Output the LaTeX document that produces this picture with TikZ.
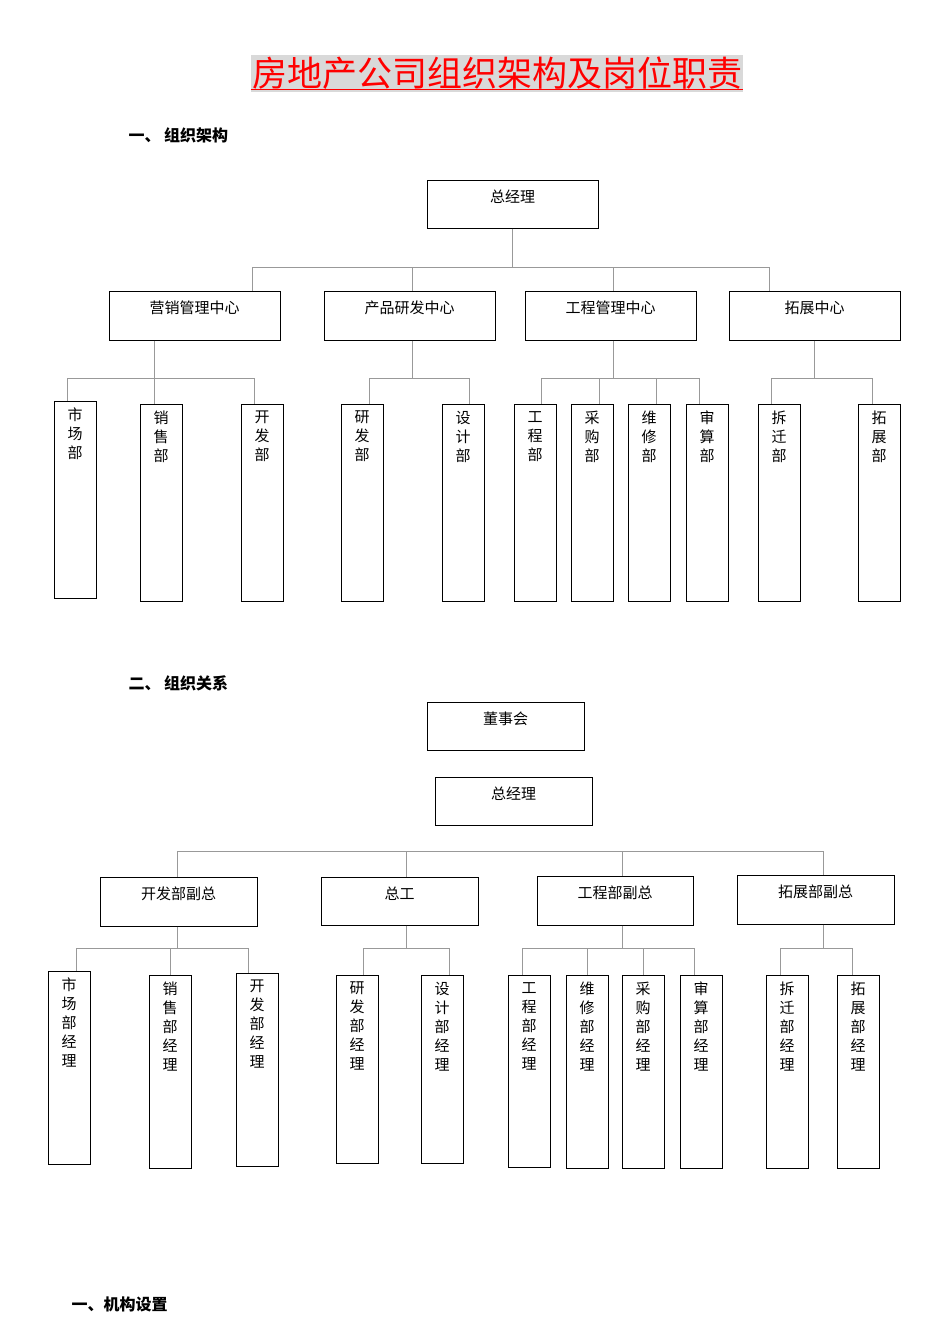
\documentclass[tikz,border=0pt]{standalone}
\usepackage{fontspec}
\setmainfont{Noto Sans CJK SC}
\newfontfamily\cjk{Noto Sans CJK SC}
\begin{document}
\begin{tikzpicture}[x=1pt,y=-1pt,
  bx/.style={draw=black,line width=1pt,inner sep=0pt},
  txt/.style={font=\fontsize{15}{19}\selectfont\cjk,inner sep=0pt,align=center},
  conn/.style={draw=gray!80,line width=0.6pt}]
\useasboundingbox (0,0) rectangle (950,1344);
\newcommand\hb[6]{\node[bx,minimum width=#4-#2,minimum height=#5-#3] (#1) at ({(#2+#4)/2},{(#3+#5)/2}) {};
  \node[txt,anchor=center] (#1t) at ({(#2+#4)/2},{#3+17}) {#6};}
\newcommand\vb[6]{\node[bx,minimum width=#4-#2,minimum height=#5-#3] (#1) at ({(#2+#4)/2},{(#3+#5)/2}) {};
  \node[txt,anchor=north] (#1t) at ({(#2+#4)/2},{#3+7}) {#6};}
% title
\node[fill=gray!30,text=red,font=\fontsize{35}{38}\selectfont,inner sep=1pt,minimum width=491,minimum height=37] (title) at (497,73) {房地产公司组织架构及岗位职责};
\draw[red,line width=1pt] (title.south west) ++(0,-2) -- ([yshift=2pt]title.south east);
\node[anchor=west,font=\fontsize{16}{18}\selectfont\bfseries] (h1) at (125,135) {一、\ 组织架构};
\node[anchor=west,font=\fontsize{16}{18}\selectfont\bfseries] (h2) at (125,683) {二、\ 组织关系};
\node[anchor=west,font=\fontsize{16}{18}\selectfont\bfseries] (h3) at (68,1304) {一、机构设置};
% section 1
\hb{zjl}{427}{180}{598}{228}{总经理}
\hb{yx}{109}{291}{280}{340}{营销管理中心}
\hb{cp}{324}{291}{495}{340}{产品研发中心}
\hb{gc}{525}{291}{696}{340}{工程管理中心}
\hb{tz}{729}{291}{900}{340}{拓展中心}
\draw[conn] (zjl.south) -- (zjl.south|-0,267);
\draw[conn] (252,267) -- (769,267);
\foreach \n/\x in {yx/252,cp/412,gc/613,tz/769} \draw[conn] (\x,267) -- (\n.north -| \x,0);
\vb{a1}{54}{401}{96}{598}{市\\场\\部}
\vb{a2}{140}{404}{182}{601}{销\\售\\部}
\vb{a3}{241}{404}{283}{601}{开\\发\\部}
\vb{a4}{341}{404}{383}{601}{研\\发\\部}
\vb{a5}{442}{404}{484}{601}{设\\计\\部}
\vb{a6}{514}{404}{556}{601}{工\\程\\部}
\vb{a7}{571}{404}{613}{601}{采\\购\\部}
\vb{a8}{628}{404}{670}{601}{维\\修\\部}
\vb{a9}{686}{404}{728}{601}{审\\算\\部}
\vb{a10}{758}{404}{800}{601}{拆\\迁\\部}
\vb{a11}{858}{404}{900}{601}{拓\\展\\部}
\draw[conn] (67,378) -- (254,378); \draw[conn] (369,378) -- (469,378);
\draw[conn] (541,378) -- (699,378); \draw[conn] (771,378) -- (872,378);
\foreach \n/\x in {a1/67,a2/154,a3/254,a4/369,a5/469,a6/541,a7/599,a8/656,a9/699,a10/771,a11/872} \draw[conn] (\x,378) -- (\n.north -| \x,0);
\foreach \n/\x in {yx/154,cp/412,gc/613,tz/814} \draw[conn] (\n.south -| \x,0) -- (\x,378);
% section 2
\hb{dsh}{427}{702}{584}{750}{董事会}
\hb{zjl2}{435}{777}{592}{825}{总经理}
\hb{kf}{100}{877}{257}{926}{开发部副总}
\hb{zg}{321}{877}{478}{925}{总工}
\hb{gcf}{537}{876}{693}{925}{工程部副总}
\hb{tzf}{737}{875}{894}{924}{拓展部副总}
\draw[conn] (177,851) -- (823,851);
\foreach \n/\x in {kf/177,zg/406,gcf/622,tzf/823} \draw[conn] (\x,851) -- (\n.north -| \x,0);
\vb{b1}{48}{971}{90}{1164}{市\\场\\部\\经\\理}
\vb{b2}{149}{975}{191}{1168}{销\\售\\部\\经\\理}
\vb{b3}{236}{973}{278}{1166}{开\\发\\部\\经\\理}
\vb{b4}{336}{975}{378}{1163}{研\\发\\部\\经\\理}
\vb{b5}{421}{975}{463}{1163}{设\\计\\部\\经\\理}
\vb{b6}{508}{975}{550}{1167}{工\\程\\部\\经\\理}
\vb{b7}{566}{975}{608}{1168}{维\\修\\部\\经\\理}
\vb{b8}{622}{975}{664}{1168}{采\\购\\部\\经\\理}
\vb{b9}{680}{975}{722}{1168}{审\\算\\部\\经\\理}
\vb{b10}{766}{975}{808}{1168}{拆\\迁\\部\\经\\理}
\vb{b11}{837}{975}{879}{1168}{拓\\展\\部\\经\\理}
\draw[conn] (76,948) -- (248,948); \draw[conn] (363,948) -- (449,948);
\draw[conn] (522,948) -- (694,948); \draw[conn] (780,948) -- (852,948);
\foreach \n/\x in {b1/76,b2/170,b3/248,b4/363,b5/449,b6/522,b7/587,b8/643,b9/694,b10/780,b11/852} \draw[conn] (\x,948) -- (\n.north -| \x,0);
\foreach \n/\x in {kf/177,zg/406,gcf/622,tzf/823} \draw[conn] (\n.south -| \x,0) -- (\x,948);
\end{tikzpicture}
\end{document}
